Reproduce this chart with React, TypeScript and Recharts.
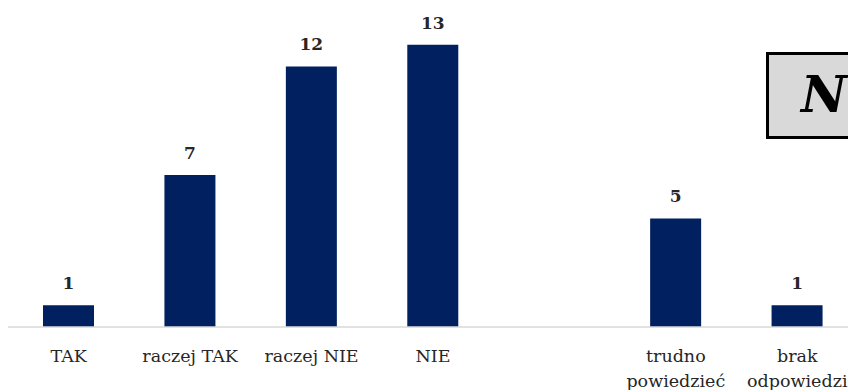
import {BarChart, Bar, XAxis, YAxis, LabelList} from 'recharts';

const categories = ['TAK', 'raczej TAK', 'raczej NIE', 'NIE', '', 'trudno powiedzieć', 'brak odpowiedzi'];
const counts: (number | null)[] = [1, 7, 12, 13, null, 5, 1];
const totalLabel = 'N = 39';

const data = categories.map((name, i) => ({name, value: counts[i]}));

const FONT = 'DejaVu Serif';

function WrappedTick(props: any) {
    const {x, y, payload} = props;
    const words: string[] = String(payload.value).split(' ');
    // two-word labels longer than ~12 chars go on two lines, like the original
    const lines = payload.value.length > 12 && words.length === 2 ? words : [payload.value];
    return (
        <text x={x} y={y} textAnchor="middle" fontFamily={FONT} fontSize={17.5} fill="#262626">
            {lines.map((l: string, i: number) => (
                <tspan key={i} x={x} dy={i === 0 ? 35 : 25}>{l}</tspan>
            ))}
        </text>
    );
}

export default function App() {
    return (
        <div style={{position: 'fixed', left: 0, top: 0, width: 848, height: 390, overflow: 'hidden', background: '#fff'}}>
            <div style={{position: 'absolute', left: 8, top: 8}}>
                <BarChart width={850} height={382} data={data} margin={{top: 15, right: 0, left: 0, bottom: 0}}>
                    <YAxis hide domain={[0, 14]}/>
                    <XAxis dataKey="name" interval={0} height={63} tickSize={0} tickMargin={0} tickLine={false}
                           axisLine={{stroke: '#d9d9d9', strokeWidth: 1.5}} tick={<WrappedTick/>}/>
                    <Bar dataKey="value" fill="#002060" barSize={51} isAnimationActive={false}>
                        <LabelList dataKey="value" position="top" offset={16} fontFamily={FONT}
                                   fontSize={17} fontWeight="bold" fill="#262626"/>
                    </Bar>
                </BarChart>
            </div>
            <svg width={848} height={390} style={{position: 'absolute', left: 0, top: 0, pointerEvents: 'none'}}>
                <rect x={767.5} y={53.5} width={120} height={84} fill="#d9d9d9" stroke="#000" strokeWidth={3}/>
                <text x={801} y={112} fontFamily={FONT} fontSize={50} fontStyle="italic" fontWeight="bold" fill="#000">
                    {totalLabel}
                </text>
            </svg>
        </div>
    );
}
